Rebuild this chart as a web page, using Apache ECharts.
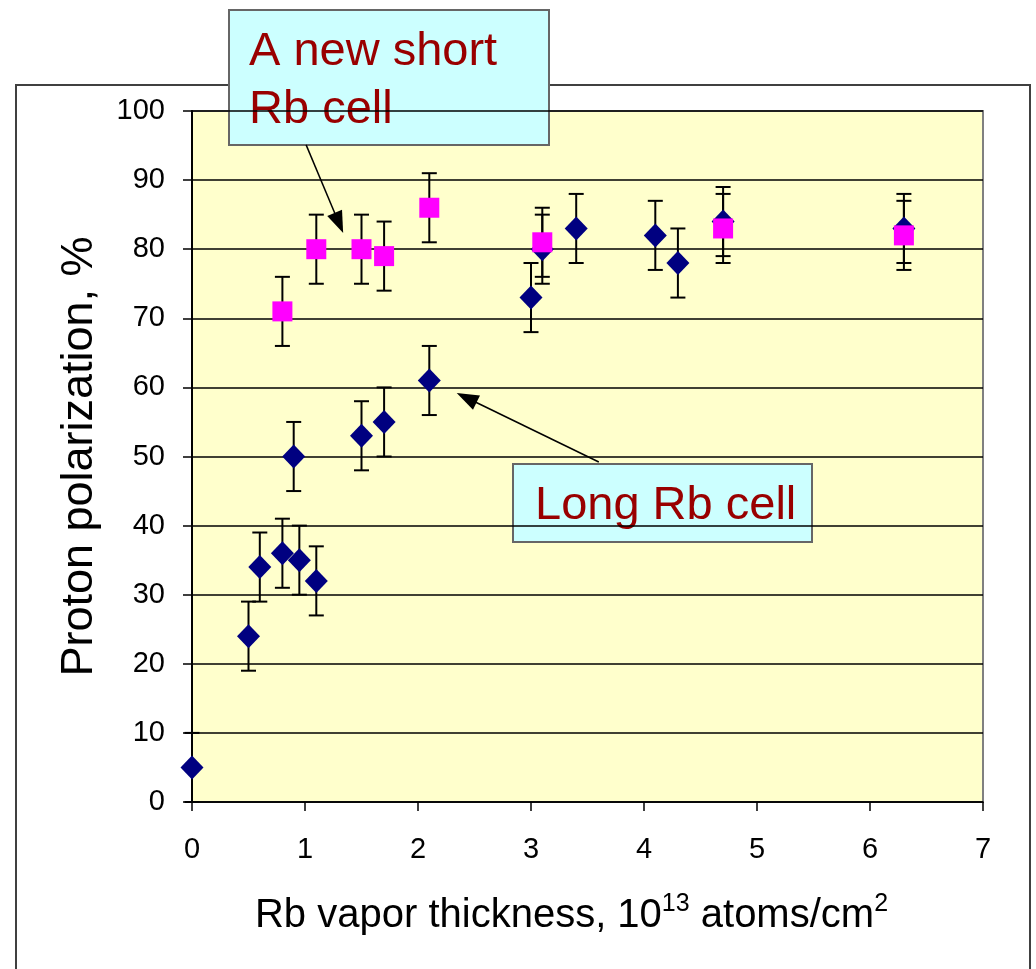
<!DOCTYPE html>
<html>
<head>
<meta charset="utf-8">
<script src="https://cdn.jsdelivr.net/npm/echarts@6/dist/echarts.min.js"></script>
<style>
html,body{margin:0;padding:0;background:#fff;}
#chart{width:1036px;height:969px;}
</style>
</head>
<body>
<div id="chart"></div>
<script>
// Long Rb cell (blue diamonds)
var longX = [0, 0.5, 0.6, 0.8, 0.9, 0.95, 1.1, 1.5, 1.7, 2.1, 3.0, 3.1, 3.4, 4.1, 4.3, 4.7, 6.3];
var longY = [5, 24, 34, 36, 50, 35, 32, 53, 55, 61, 73, 80, 83, 82, 78, 84, 83];
var longErr = [5, 5, 5, 5, 5, 5, 5, 5, 5, 5, 5, 5, 5, 5, 5, 5, 5];
// A new short Rb cell (magenta squares)
var shortX = [0.8, 1.1, 1.5, 1.7, 2.1, 3.1, 4.7, 6.3];
var shortY = [71, 80, 80, 79, 86, 81, 83, 82];
var shortErr = [5, 5, 5, 5, 5, 5, 5, 5];
// Axes
var xTicks = [0, 1, 2, 3, 4, 5, 6, 7];
var yTicks = [0, 10, 20, 30, 40, 50, 60, 70, 80, 90, 100];

var FONT = 'Liberation Sans';

function pairs(xs, ys) { return xs.map(function (x, i) { return [x, ys[i]]; }); }
function errData(xs, ys, es) { return xs.map(function (x, i) { return [x, ys[i] - es[i], ys[i] + es[i]]; }); }

function renderErr(params, api) {
  var lo = api.coord([api.value(0), api.value(1)]);
  var hi = api.coord([api.value(0), api.value(2)]);
  var hw = 7.5;
  var st = { stroke: '#000', lineWidth: 2 };
  return {
    type: 'group',
    children: [
      { type: 'line', shape: { x1: lo[0], y1: lo[1], x2: hi[0], y2: hi[1] }, style: st },
      { type: 'line', shape: { x1: lo[0] - hw, y1: lo[1], x2: lo[0] + hw, y2: lo[1] }, style: st },
      { type: 'line', shape: { x1: hi[0] - hw, y1: hi[1], x2: hi[0] + hw, y2: hi[1] }, style: st }
    ]
  };
}

var chart = echarts.init(document.getElementById('chart'));
chart.setOption({
  backgroundColor: '#fff',
  animation: false,
  grid: {
    left: 192, top: 111, right: 53, bottom: 167,
    show: true, backgroundColor: '#FFFFCC', borderColor: '#808080', borderWidth: 2
  },
  xAxis: {
    type: 'value', min: xTicks[0], max: xTicks[xTicks.length - 1], interval: 1,
    axisLine: { show: true, onZero: false, lineStyle: { color: '#000', width: 1.5 } },
    axisTick: { show: true, inside: false, length: 9, lineStyle: { color: '#000', width: 1.5 } },
    axisLabel: { color: '#000', fontFamily: FONT, fontSize: 29, margin: 33 },
    splitLine: { show: false },
    name: '{n|Rb vapor thickness, 10}{s|13}{n| atoms/cm}{s|2}',
    nameLocation: 'middle', nameGap: 90,
    nameTextStyle: {
      padding: [0, 32, 0, 0],
      rich: {
        n: { fontFamily: FONT, fontSize: 40, color: '#000', lineHeight: 48 },
        s: { fontFamily: FONT, fontSize: 25, color: '#000', verticalAlign: 'top', lineHeight: 26 }
      }
    }
  },
  yAxis: {
    type: 'value', min: yTicks[0], max: yTicks[yTicks.length - 1], interval: 10,
    axisLine: { show: true, onZero: false, lineStyle: { color: '#000', width: 2 } },
    axisTick: { show: true, inside: false, length: 9, lineStyle: { color: '#000', width: 1.5 } },
    axisLabel: { color: '#000', fontFamily: FONT, fontSize: 29, margin: 27 },
    splitLine: { show: true, lineStyle: { color: '#000', width: 1.5 } },
    name: 'Proton polarization, %',
    nameLocation: 'middle', nameGap: 90,
    nameTextStyle: { fontFamily: FONT, fontSize: 45, color: '#000' }
  },
  series: [
    {
      type: 'custom', name: 'longErr', renderItem: renderErr,
      data: errData(longX, longY, longErr), z: 2, encode: { x: 0, y: [1, 2] }
    },
    {
      type: 'custom', name: 'shortErr', renderItem: renderErr,
      data: errData(shortX, shortY, shortErr), z: 2, encode: { x: 0, y: [1, 2] }
    },
    {
      type: 'scatter', name: 'Long Rb cell', data: pairs(longX, longY),
      symbol: 'diamond', symbolSize: [23, 24], itemStyle: { color: '#000080', opacity: 1 }, z: 3
    },
    {
      type: 'scatter', name: 'A new short Rb cell', data: pairs(shortX, shortY),
      symbol: 'rect', symbolSize: 20, itemStyle: { color: '#FF00FF', opacity: 1 }, z: 4,
      markLine: {
        silent: true, animation: false,
        symbol: ['none', 'triangle'], symbolSize: [16, 22],
        lineStyle: { color: '#000', width: 1.5, type: 'solid' },
        itemStyle: { color: '#000' },
        label: { show: false },
        data: [
          [{ coord: [1.01, 95.1] }, { coord: [1.30, 83.8] }],
          [{ coord: [3.60, 49.2] }, { coord: [2.43, 58.5] }]
        ]
      }
    }
  ],
  graphic: [
    {
      type: 'rect', z: 0, silent: true,
      shape: { x: 16, y: 85, width: 1014, height: 900 },
      style: { fill: 'none', stroke: '#404040', lineWidth: 2 }
    },
    {
      type: 'group', z: 100,
      children: [
        {
          type: 'rect', shape: { x: 229, y: 10, width: 320, height: 135 },
          style: { fill: '#CCFFFF', stroke: '#666666', lineWidth: 2 }
        },
        {
          type: 'text', x: 249, y: 52,
          style: { text: 'A new short', font: '47px "' + FONT + '"', fill: '#990000', verticalAlign: 'middle', align: 'left' }
        },
        {
          type: 'text', x: 249, y: 110,
          style: { text: 'Rb cell', font: '47px "' + FONT + '"', fill: '#990000', verticalAlign: 'middle', align: 'left' }
        },
        {
          type: 'rect', shape: { x: 513, y: 464, width: 299, height: 78 },
          style: { fill: '#CCFFFF', stroke: '#666666', lineWidth: 2 }
        },
        {
          type: 'text', x: 535, y: 506,
          style: { text: 'Long Rb cell', font: '47px "' + FONT + '"', fill: '#990000', verticalAlign: 'middle', align: 'left' }
        }
      ]
    }
  ]
});
</script>
</body>
</html>
